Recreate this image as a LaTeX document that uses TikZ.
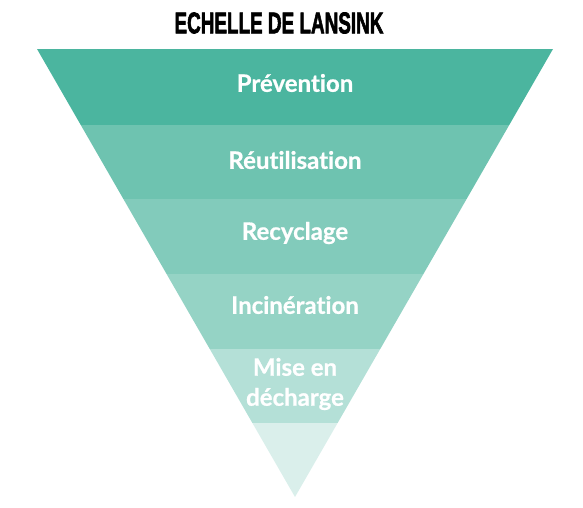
\documentclass[tikz,border=0pt]{standalone}
\usepackage{fontspec}
\setmainfont{Lato}[Ligatures=NoCommon, BoldFeatures={FakeBold=0.7}]
\newfontfamily\titlefont{Liberation Sans Bold}[FakeBold=2.4]
\definecolor{bandA}{HTML}{4BB59F}
\definecolor{bandB}{HTML}{6EC3B0}
\definecolor{bandC}{HTML}{82CBBB}
\definecolor{bandD}{HTML}{95D3C5}
\definecolor{bandE}{HTML}{B4E0D7}
\definecolor{bandF}{HTML}{DAEFEB}
\tikzset{
  niveau/.style={text=white, font=\fontsize{24}{30}\selectfont\bfseries, align=center},
}
\begin{document}
\begin{tikzpicture}[x=1pt, y=-1pt]
    % 1. CADRE
    \useasboundingbox (0,0) rectangle (583,507);

    % 2. TITRE
    \node[xscale=0.63, font=\titlefont\fontsize{30}{31}\selectfont] (titre) at (279,23) {ECHELLE DE LANSINK};

    % 3. BANDES DU TRIANGLE INVERSE
    \begin{scope}
        \clip (37,49) -- (553,49) -- (295,497) -- cycle;
        \foreach \col/\ya/\yb in {bandA/49/125, bandB/125/199, bandC/199/274, bandD/274/349, bandE/349/423, bandF/423/497} {
            \fill[\col] (0,\ya) rectangle (583,\yb);
        }
    \end{scope}

    % 4. ETIQUETTES DES NIVEAUX
    \node[niveau] (prevention) at (295,83) {Prévention};
    \node[niveau] (reutilisation) at (295,160) {Réutilisation};
    \node[niveau] (recyclage) at (295,233) {Recyclage};
    \node[niveau] (incineration) at (295,305) {Incinération};
    \node[niveau] (decharge) at (295,384) {Mise en\\décharge};

\end{tikzpicture}
\end{document}
